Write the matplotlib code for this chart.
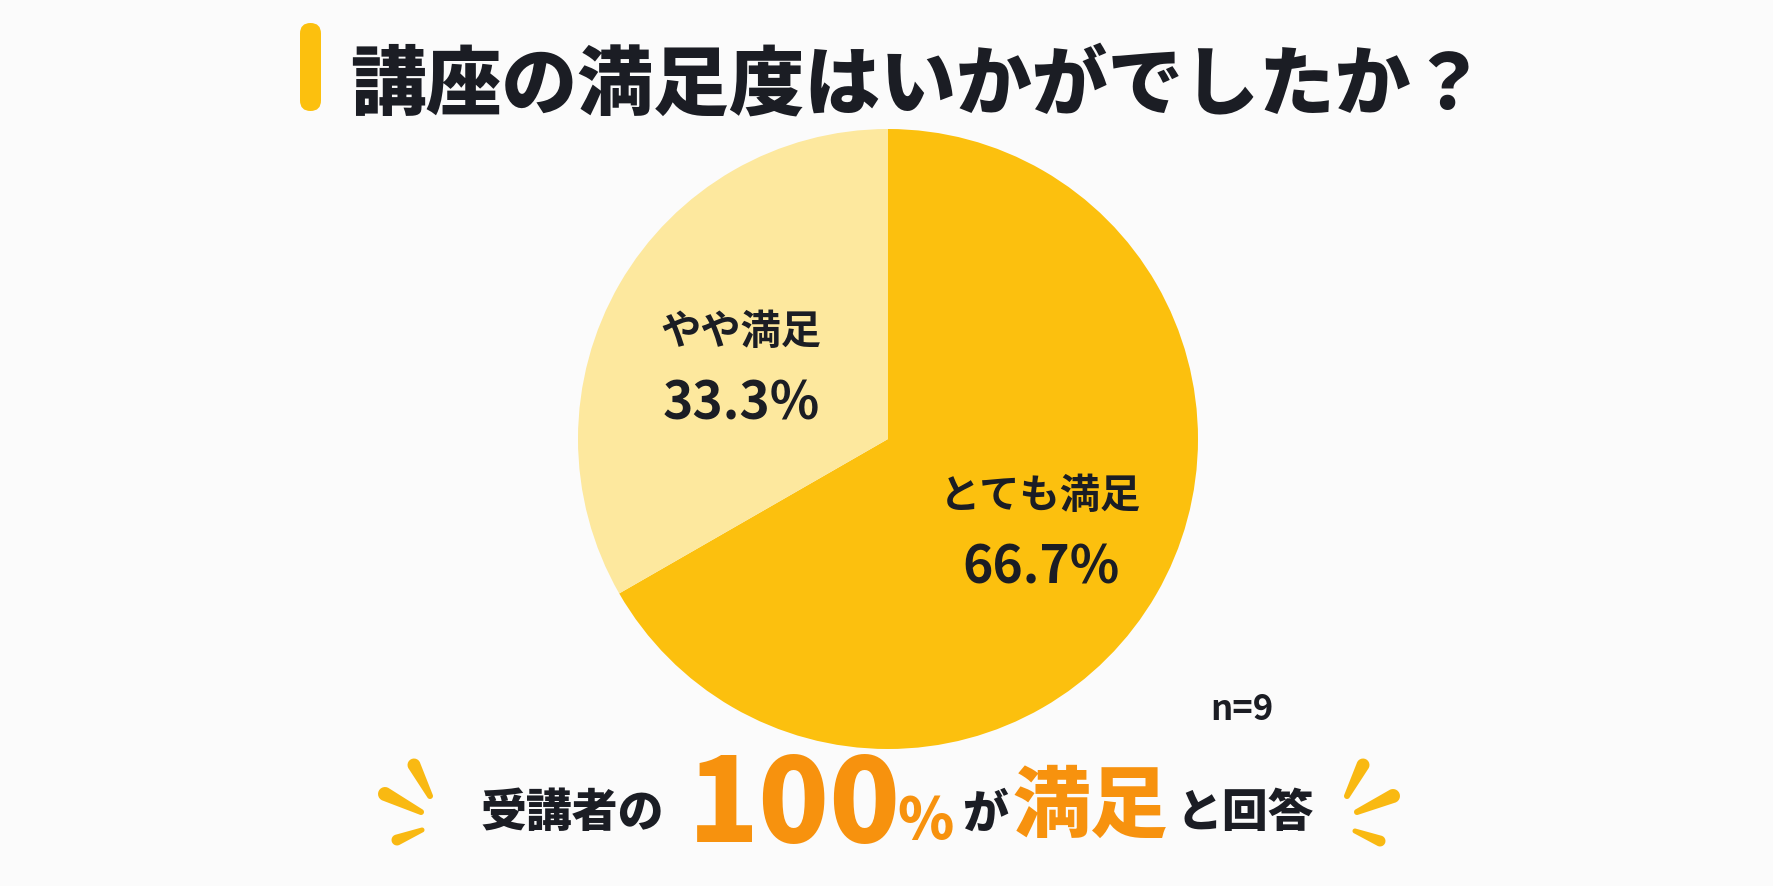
import matplotlib
matplotlib.use("Agg")
import matplotlib.pyplot as plt
import numpy as np
from matplotlib.patches import FancyBboxPatch, Polygon

plt.rcParams['font.family'] = ['Noto Sans CJK JP', 'DejaVu Sans']

# ---- data ----
title = "講座の満足度はいかがでしたか？"
categories = ["とても満足", "やや満足"]
values = [66.7, 33.3]
value_labels = ["66.7%", "33.3%"]
n_label = "n=9"
summary_parts = ["受講者の", "100", "%", "が", "満足", "と回答"]

W, H = 1774, 887
BG = "#FBFBFB"
DARK = "#1B1D24"
slice_colors = ["#FCC00E", "#FDE89E"]
ORANGE = "#F7920E"
SPARK = "#F9B912"

fig = plt.figure(figsize=(W / 100, H / 100), dpi=100, facecolor=BG)
ax = fig.add_axes([0, 0, 1, 1])
ax.set_xlim(0, W)
ax.set_ylim(0, H)
ax.set_aspect('equal')
ax.axis('off')
ax.set_facecolor(BG)

def Y(py):
    return H - py

# title bar
ax.add_patch(FancyBboxPatch((300, Y(112)), 21, 88, boxstyle="round,pad=0,rounding_size=10.5",
                            fc="#FCC00E", ec="none"))
ax.text(350, Y(86), title, fontsize=54.5, fontweight='black', color=DARK,
        ha='left', va='center')

# pie
cx, cy, r = 888, 440, 310
ax.pie(values, colors=slice_colors, startangle=90, counterclock=False,
       center=(cx, Y(cy)), radius=r, wedgeprops=dict(linewidth=0))
ax.set_xlim(0, W)
ax.set_ylim(0, H)

# slice labels
label_pos = [((1040, 497), (1041, 568)), ((741, 333), (741, 404))]
for cat, vl, (p1, p2) in zip(categories, value_labels, label_pos):
    ax.text(p1[0], Y(p1[1]), cat, fontsize=29, fontweight='bold', color=DARK,
            ha='center', va='center')
    ax.text(p2[0], Y(p2[1]), vl, fontsize=37, fontweight='bold', color=DARK,
            ha='center', va='center')

ax.text(1242, Y(710), n_label, fontsize=25, fontweight='bold', color=DARK,
        ha='center', va='center')

# summary line
specs = [
    (summary_parts[0], 481, 814, 33, DARK),
    (summary_parts[1], 688, 808, 84, ORANGE),
    (summary_parts[2], 897, 822, 41, ORANGE),
    (summary_parts[3], 962, 814, 33, DARK),
    (summary_parts[4], 1013, 808, 56, ORANGE),
    (summary_parts[5], 1177, 814, 33, DARK),
]
for txt, x, y, fs, col in specs:
    ax.text(x, Y(y), txt, fontsize=fs, fontweight='black', color=col,
            ha='left', va='center')

# sparkles
def spark(p0, p1, w0, w1):
    p0 = np.array([p0[0], Y(p0[1])], float)
    p1 = np.array([p1[0], Y(p1[1])], float)
    d = p1 - p0
    d = d / np.linalg.norm(d)
    nrm = np.array([-d[1], d[0]])
    pts = []
    ang0 = np.arctan2(nrm[1], nrm[0])
    for t in np.linspace(0, np.pi, 12):
        a = ang0 + t
        pts.append(p0 + w0 / 2 * np.array([np.cos(a), np.sin(a)]))
    for t in np.linspace(0, np.pi, 12):
        a = ang0 + np.pi + t
        pts.append(p1 + w1 / 2 * np.array([np.cos(a), np.sin(a)]))
    ax.add_patch(Polygon(pts, closed=True, fc=SPARK, ec='none'))

spark((414, 766), (430, 797), 13, 6)
spark((385, 795), (421, 813), 14, 6)
spark((397, 841), (422, 831), 11, 5)
spark((1363, 766), (1347, 797), 13, 6)
spark((1393, 797), (1357, 813), 14, 6)
spark((1380, 842), (1355, 832), 11, 5)

fig.savefig("out.png", dpi=100, facecolor=BG)
